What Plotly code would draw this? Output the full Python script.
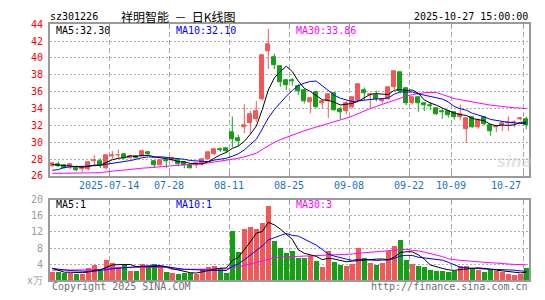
import plotly.graph_objects as go
import pandas as pd

# ---------------- data ----------------
dates = ["06-30",
 "07-01","07-02","07-03","07-04","07-07","07-08","07-09","07-10","07-11",
 "07-14","07-15","07-16","07-17","07-18","07-21","07-22","07-23","07-24","07-25",
 "07-28","07-29","07-30","07-31","08-01","08-04","08-05","08-06","08-07","08-08",
 "08-11","08-12","08-13","08-14","08-15","08-18","08-19","08-20","08-21","08-22",
 "08-25","08-26","08-27","08-28","08-29","09-01","09-02","09-03","09-04","09-05",
 "09-08","09-09","09-10","09-11","09-12","09-15","09-16","09-17","09-18","09-19",
 "09-22","09-23","09-24","09-25","09-26","09-29","09-30","10-09","10-10","10-13",
 "10-14","10-15","10-16","10-17","10-20","10-21","10-22","10-23","10-24","10-27"]

open_ = [27.20,27.43,27.24,27.16,26.97,26.78,26.78,27.70,27.70,26.86,
         28.38,28.40,28.60,28.15,28.34,28.38,28.84,27.77,27.24,27.89,
         27.81,27.83,27.64,27.22,27.26,27.38,28.02,28.60,29.20,29.25,
         31.23,30.47,31.76,32.30,32.68,35.07,40.85,40.13,39.06,37.30,
         37.40,36.66,36.20,34.80,35.95,34.57,34.87,35.78,33.88,33.66,
         34.16,35.00,36.20,35.60,35.60,34.84,35.14,36.57,38.28,36.36,
         34.57,35.37,34.57,34.38,34.00,33.73,33.62,33.54,32.94,31.53,
         32.97,31.80,32.97,32.00,31.75,32.02,32.30,32.30,32.67,32.67]
high  = [27.60,27.70,27.30,27.45,27.24,27.05,27.70,28.45,28.08,28.55,
         28.95,29.14,28.70,28.40,28.42,29.14,28.95,27.85,27.95,28.00,
         28.10,27.95,27.80,27.30,27.55,28.05,28.80,29.30,29.40,29.35,
         33.06,30.89,34.50,33.74,34.88,40.40,43.44,40.50,39.14,37.54,
         37.65,36.86,36.30,35.30,36.10,34.98,35.70,35.82,34.20,34.90,
         35.35,36.96,36.50,35.72,36.10,35.20,36.60,38.40,38.30,36.50,
         35.40,35.40,34.76,34.76,34.05,34.00,33.70,33.60,34.46,32.90,
         33.05,32.80,33.05,32.10,32.00,32.37,33.05,32.60,33.00,33.05]
low   = [27.10,27.05,26.90,26.80,26.55,26.45,26.65,27.24,26.93,26.80,
         28.00,28.08,28.08,28.10,28.10,28.30,28.50,26.94,27.20,26.97,
         27.60,27.20,26.90,26.85,26.95,27.20,27.95,28.50,28.85,28.75,
         29.37,29.56,31.08,31.00,32.40,34.96,38.68,38.68,36.56,36.20,
         36.70,35.60,34.60,33.44,34.08,34.00,32.87,33.78,32.75,33.30,
         34.00,34.90,35.00,34.00,34.84,34.60,35.00,36.28,35.80,34.40,
         34.50,33.60,33.70,33.80,33.25,32.78,32.90,32.70,32.67,29.90,
         31.70,31.60,32.00,30.77,31.20,31.34,31.34,31.75,32.60,31.53]
close = [27.50,27.20,26.97,27.35,26.67,27.00,27.62,27.81,27.24,28.45,
         28.45,28.48,28.15,28.38,28.15,28.95,28.57,27.32,27.89,27.77,
         28.06,27.37,27.26,26.95,27.47,28.00,28.78,29.20,29.08,28.88,
         30.40,30.17,32.00,33.28,33.67,40.36,41.65,39.14,37.13,36.78,
         37.20,36.00,34.90,35.22,34.18,34.88,35.64,33.84,33.56,34.66,
         35.30,36.93,35.82,35.70,35.07,35.14,36.55,38.37,36.10,34.57,
         35.37,34.68,34.38,34.26,33.35,33.60,33.16,32.94,33.35,32.86,
         31.80,32.60,32.10,31.34,31.90,32.25,32.40,32.40,32.85,32.03]
volume = [2.25,2.10,1.95,1.95,1.70,1.70,3.05,4.00,2.50,5.10,
          4.30,3.50,4.15,2.50,2.50,4.15,3.30,4.15,3.10,2.10,
          1.85,1.55,1.95,1.95,1.70,2.90,3.45,3.70,3.20,1.95,
          12.25,7.15,12.90,13.40,12.70,14.30,18.50,9.83,8.17,6.76,
          7.46,5.57,5.57,6.13,4.87,3.45,7.23,4.63,4.00,3.68,
          4.24,8.02,5.57,4.40,4.00,4.40,7.23,8.65,10.06,5.10,
          4.15,3.68,3.30,2.74,2.50,2.50,2.03,2.50,3.68,3.68,
          2.90,2.66,2.03,2.66,2.27,2.10,1.64,1.48,1.71,3.05]

# moving-average values before the windows are complete
ma5_head = [27.35, 27.30, 27.25, 27.20]
ma10_head = [26.67, 26.75, 27.00, 27.10, 27.12, 27.13, 27.15, 27.20, 27.25]
ma30_head = [26.30, 26.30, 26.30, 26.30, 26.30, 26.30, 26.35, 26.37, 26.40, 26.50,
             26.55, 26.65, 26.70, 26.80, 26.85, 26.92, 26.97, 27.02, 27.10, 27.20,
             27.25, 27.30, 27.33, 27.36, 27.40, 27.45, 27.55, 27.65, 27.75]
vma5_head = [3.0, 2.5, 2.0, 2.0]
vma10_head = [2.9, 2.8, 2.6, 2.4, 2.3, 2.2, 2.2, 2.25, 2.35]
vma30_head = [2.5, 2.5, 2.5, 2.5, 2.5, 2.5, 2.5, 2.6, 2.7, 2.8,
              3.0, 3.2, 3.2, 3.2, 3.2, 3.2, 3.2, 3.2, 3.2, 3.2,
              2.7, 2.7, 2.7, 2.7, 2.7, 2.7, 2.7, 2.7, 2.7]

tick_dates = ["07-14", "07-28", "08-11", "08-25", "09-08", "09-22", "10-09", "10-27"]
tick_labels = ["2025-07-14", "07-28", "08-11", "08-25", "09-08", "09-22", "10-09", "10-27"]
price_ticks = [26, 28, 30, 32, 34, 36, 38, 40, 42, 44]
vol_ticks = [0, 4, 8, 12, 16, 20]
vol_ticktext = ["x万", "4", "8", "12", "16", "20"]

code = "sz301226"
title = "祥明智能\u00a0\u00a0－\u00a0\u00a0日K线图"
stamp = "2025-10-27 15:00:00"
ma_price_text = ["MA5:32.30", "MA10:32.10", "MA30:33.86"]
ma_vol_text = ["MA5:1", "MA10:1", "MA30:3"]

# ---------------- derived ----------------
def moving(values, n, head):
    s = pd.Series(values).rolling(n).mean().tolist()
    return head + s[len(head):]

ma5 = moving(close, 5, ma5_head)
ma10 = moving(close, 10, ma10_head)
ma30 = moving(close, 30, ma30_head)
vma5 = moving(volume, 5, vma5_head)
vma10 = moving(volume, 10, vma10_head)
vma30 = moving(volume, 30, vma30_head)

RED = "#F45757"
GREEN = "#14A014"
x = list(range(len(dates)))
up = [c >= o for o, c in zip(open_, close)]
colors = [RED if u else GREEN for u in up]

W, H = 545, 300
MONO = "DejaVu Sans Mono"
fig = go.Figure()

# wicks
for flag, col in [(True, RED), (False, GREEN)]:
    wx, wy = [], []
    for i in x:
        if up[i] == flag:
            wx += [i, i, None]
            wy += [low[i], high[i], None]
    fig.add_trace(go.Scatter(x=wx, y=wy, mode="lines", line=dict(color=col, width=1),
                             hoverinfo="skip", xaxis="x", yaxis="y"))

# bodies
fig.add_trace(go.Bar(x=x, base=[min(o, c) for o, c in zip(open_, close)],
                     y=[max(abs(c - o), 0.06) for o, c in zip(open_, close)],
                     width=0.72, marker=dict(color=colors, line=dict(color=colors, width=1)),
                     xaxis="x", yaxis="y"))

for vals, col in [(ma30, "#FF00FF"), (ma10, "#0000FF"), (ma5, "#000000")]:
    fig.add_trace(go.Scatter(x=x, y=vals, mode="lines", line=dict(color=col, width=1),
                             xaxis="x", yaxis="y"))

# volume
fig.add_trace(go.Bar(x=x, y=volume, width=0.78, marker=dict(color=colors, line=dict(width=0)),
                     xaxis="x2", yaxis="y2"))
for vals, col in [(vma30, "#FF00FF"), (vma10, "#0000FF"), (vma5, "#000000")]:
    fig.add_trace(go.Scatter(x=x, y=vals, mode="lines", line=dict(color=col, width=1),
                             xaxis="x2", yaxis="y2"))

tick_idx = [dates.index(d) for d in tick_dates]
grid_pos = [i - 0.5 for i in tick_idx]

x0, x1 = 50, 529
xr = [-0.383, 79.45]
xdom = [x0 / W, x1 / W]
common_x = dict(range=xr, domain=xdom, showgrid=True, gridcolor="#a8a8a8", gridwidth=1,
                griddash="5px,3px", tickvals=grid_pos, showticklabels=False,
                ticks="inside", ticklen=4, tickcolor="#999999",
                showline=True, linecolor="#9a9a9a", linewidth=2, mirror="ticks",
                zeroline=False, fixedrange=True)
common_y = dict(showgrid=True, gridcolor="#b0b0b0", gridwidth=1, griddash="2px,2px",
                showline=True, linecolor="#9a9a9a", linewidth=2, mirror=True,
                zeroline=False, ticks="", ticklabelstandoff=3)

fig.update_layout(
    width=W, height=H, margin=dict(l=0, r=0, t=0, b=0),
    paper_bgcolor="white", plot_bgcolor="white", showlegend=False,
    barmode="overlay", bargap=0,
    xaxis=dict(anchor="y", **common_x),
    yaxis=dict(domain=[1 - 177 / H, 1 - 19 / H], range=[26, 44], tickvals=price_ticks,
               tickfont=dict(family=MONO, size=10, color="#FF0000"), **common_y),
    xaxis2=dict(anchor="y2", **common_x),
    yaxis2=dict(domain=[1 - 285.7 / H, 1 - 201.7 / H], range=[0, 20], tickvals=vol_ticks,
                ticktext=vol_ticktext,
                tickfont=dict(family=MONO, size=10, color="#9a9a9a"), **common_y),
)

def ann(text, xp, yp, color="#000000", anchor="left", size=10, family=MONO):
    fig.add_annotation(text=text, x=xp / W, y=1 - yp / H, xref="paper", yref="paper",
                       xanchor=anchor, yanchor="middle", showarrow=False,
                       font=dict(family=family, size=size, color=color))

ann(code, 48, 11)
ann(title, 119, 11, size=12, family="Noto Sans CJK SC")
ann(stamp, 530, 11, anchor="right")
ma_cols = ["#000000", "#0000FF", "#FF00FF"]
for t, xp, c in zip(ma_price_text, [54, 174, 294], ma_cols):
    ann(t, xp, 25.5, color=c)
for t, xp, c in zip(ma_vol_text, [54, 174, 294], ma_cols):
    ann(t, xp, 207, color=c)
ann("Copyright 2025 SINA.COM", 50, 292, color="#707070")
ann("http://finance.sina.com.cn", 530, 292, color="#707070", anchor="right")

# date labels on the axis
for k, (pos, lab) in enumerate(zip(grid_pos, tick_labels)):
    last = k == len(tick_labels) - 1
    fig.add_annotation(text=lab, x=pos, y=1 - 187 / H, xref="x", yref="paper",
                       xanchor="right" if last else "center", yanchor="middle",
                       showarrow=False, font=dict(family=MONO, size=10, color="#1a72c8"))

# faint watermark
fig.add_annotation(text="sina", x=514 / W, y=1 - 162 / H, xref="paper", yref="paper",
                   showarrow=False, xanchor="center", yanchor="middle",
                   font=dict(family="DejaVu Sans", size=15, color="rgba(205,195,195,0.45)",
                             weight="bold", style="italic"))

fig.write_html("out.html")
